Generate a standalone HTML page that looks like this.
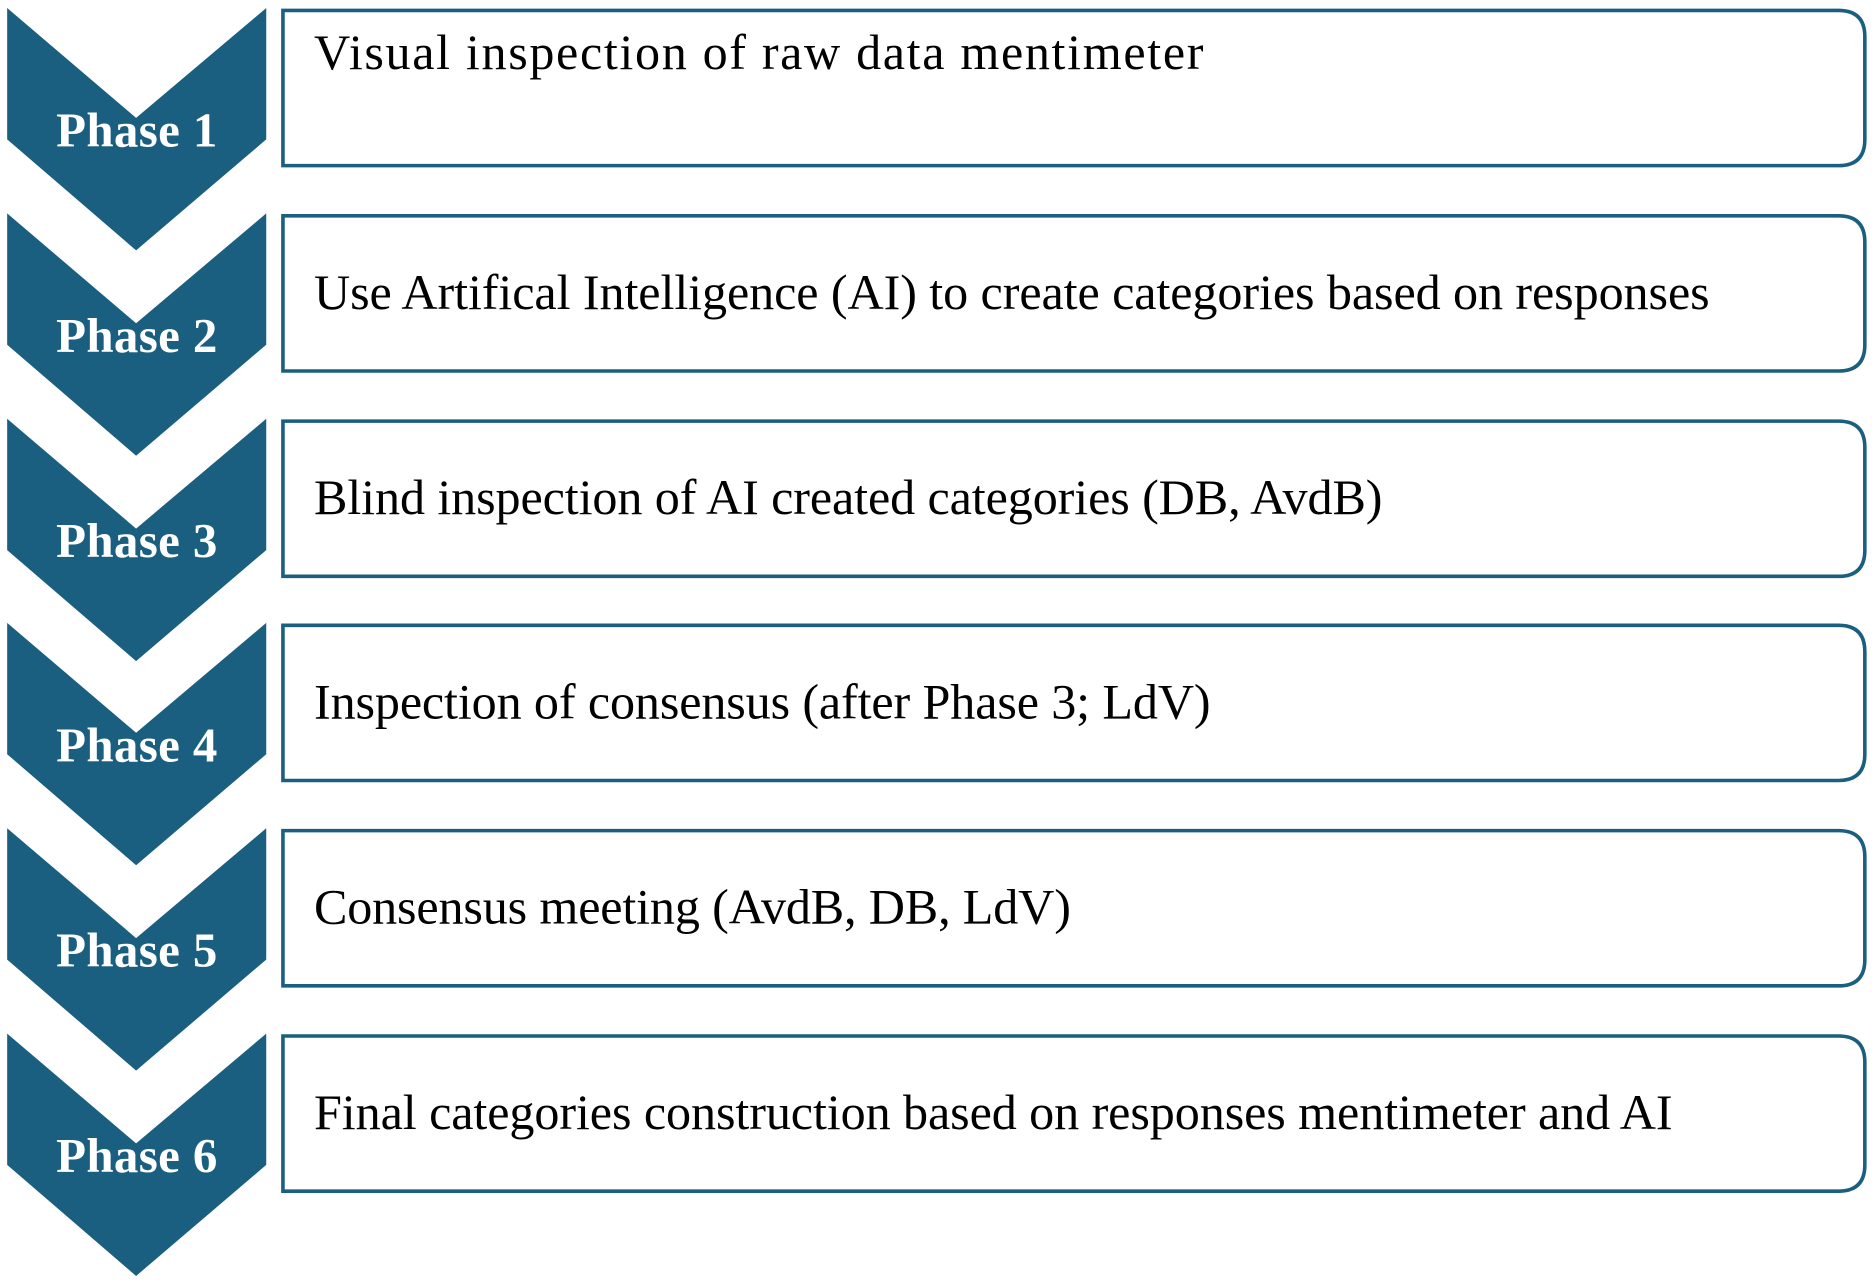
<!DOCTYPE html>
<html><head><meta charset="utf-8"><style>
html,body{margin:0;padding:0;background:#fff;}
svg{display:block;}
.t{font-family:"Liberation Serif",serif;font-size:42px;fill:#000;}
.p{font-family:"Liberation Serif",serif;font-size:41px;font-weight:bold;fill:#fff;}
</style></head><body>
<svg width="1872" height="1284" viewBox="0 0 1568 1072" xmlns="http://www.w3.org/2000/svg">
<defs>
<path id="chev" d="M6,0 L114,92 L223,0 L223,110 L114,203 L6,110 Z" fill="#1a5e80"/>
<path id="box" d="M237,2 L1540,2 Q1562,2 1562,24 L1562,110 Q1562,132 1540,132 L237,132 Z" fill="#fff" stroke="#1a5e80" stroke-width="3"/>
</defs>
<g transform="translate(0,5)"><use href="#chev"/><use href="#box"/><text class="p" x="47" y="116" textLength="135">Phase 1</text><text class="t" x="263" y="51" textLength="745">Visual inspection of raw data mentimeter</text></g>
<g transform="translate(0,177)"><use href="#chev"/><use href="#box"/><text class="p" x="47" y="116" textLength="135">Phase 2</text><text class="t" x="263" y="80" textLength="1169">Use Artifical Intelligence (AI) to create categories based on responses</text></g>
<g transform="translate(0,349)"><use href="#chev"/><use href="#box"/><text class="p" x="47" y="116" textLength="135">Phase 3</text><text class="t" x="263" y="80" textLength="895">Blind inspection of AI created categories (DB, AvdB)</text></g>
<g transform="translate(0,520)"><use href="#chev"/><use href="#box"/><text class="p" x="47" y="116" textLength="135">Phase 4</text><text class="t" x="263" y="80" textLength="751">Inspection of consensus (after Phase 3; LdV)</text></g>
<g transform="translate(0,692)"><use href="#chev"/><use href="#box"/><text class="p" x="47" y="116" textLength="135">Phase 5</text><text class="t" x="263" y="80" textLength="634">Consensus meeting (AvdB, DB, LdV)</text></g>
<g transform="translate(0,864)"><use href="#chev"/><use href="#box"/><text class="p" x="47" y="116" textLength="135">Phase 6</text><text class="t" x="263" y="80" textLength="1138">Final categories construction based on responses mentimeter and AI</text></g>
</svg>
</body></html>
